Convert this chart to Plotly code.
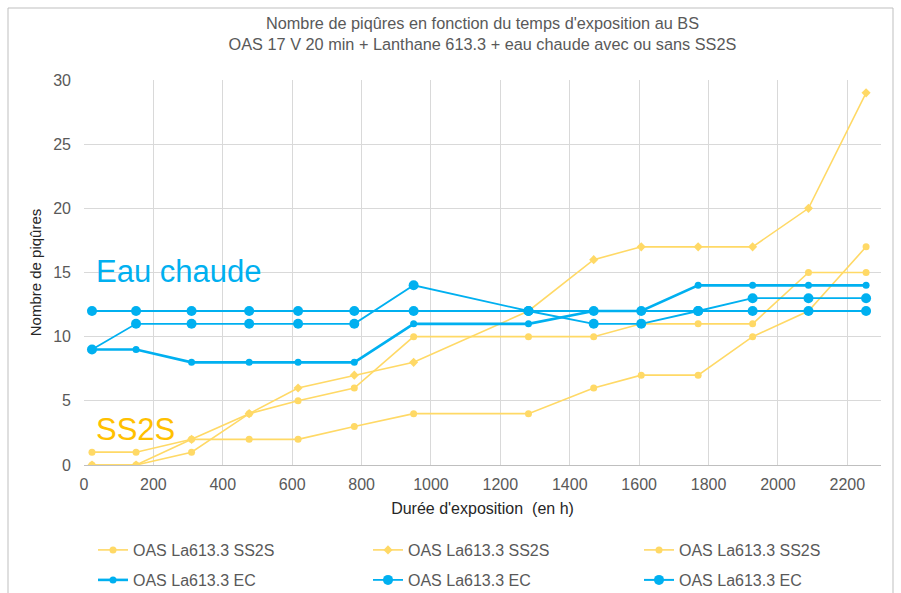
import plotly.graph_objects as go

# Exposure times (h) at which pits were counted
hours = [23, 150, 310, 476, 617, 779, 950, 1281, 1469, 1606, 1770, 1927, 2088, 2254]

# Pit counts, SS2S samples
ss2s_1 = [1, 1, 2, 2, 2, 3, 4, 4, 6, 7, 7, 10, 12, 17]
ss2s_2 = [0, 0, 2, 4, 6, 7, 8, 12, 16, 17, 17, 17, 20, 29]
ss2s_3 = [0, 0, 1, 4, 5, 6, 10, 10, 10, 11, 11, 11, 15, 15]

# Pit counts, hot water (EC) samples
ec_1 = [9, 9, 8, 8, 8, 8, 11, 11, 12, 12, 14, 14, 14, 14]
ec_2 = [9, 11, 11, 11, 11, 11, 14, 12, 11, 11, 12, 13, 13, 13]
ec_3 = [12, 12, 12, 12, 12, 12, 12, 12, 12, 12, 12, 12, 12, 12]

ss2s_name = "OAS La613.3 SS2S"
ec_name = "OAS La613.3 EC"
x_ticks = [0, 200, 400, 600, 800, 1000, 1200, 1400, 1600, 1800, 2000, 2200]
y_ticks = [0, 5, 10, 15, 20, 25, 30]

YELLOW = "#FFD966"
BLUE = "#00B0F0"
FONT = "Liberation Sans, Arial, sans-serif"
GREY_TXT = "#595959"

W, H = 901, 593
L, R, T, B = 84, 20, 80, 128
PW, PH = W - L - R, H - T - B


def px_x(p):
    """Pixel column -> paper x."""
    return (p - L) / PW


def px_y(p):
    """Pixel row -> paper y."""
    return (H - B - p) / PH


fig = go.Figure()

# One legend per entry so the 3x2 grid sits exactly where wanted
legend_cols = [93, 368, 639]
legend_rows = [550, 580]

ss2s_styles = [("circle", 7), ("diamond", 7), ("circle", 7)]
for i, (ys, (sym, size)) in enumerate(zip([ss2s_1, ss2s_2, ss2s_3], ss2s_styles)):
    fig.add_trace(go.Scatter(
        x=hours, y=ys, name=ss2s_name, mode="lines+markers",
        line=dict(color=YELLOW, width=1.6),
        marker=dict(color=YELLOW, symbol=sym, size=size),
        legend="legend" if i == 0 else f"legend{i + 1}",
    ))

ec_styles = [(7, 2.6), (10, 1.8), (10, 2.0)]
for i, (ys, (size, lw)) in enumerate(zip([ec_1, ec_2, ec_3], ec_styles)):
    fig.add_trace(go.Scatter(
        x=hours, y=ys, name=ec_name, mode="lines+markers",
        line=dict(color=BLUE, width=lw),
        marker=dict(color=BLUE, symbol="circle", size=size),
        legend=f"legend{i + 4}",
    ))

# Group labels inside the plot
fig.add_annotation(x=30, y=15.05, xref="x", yref="y", text="Eau chaude",
                   showarrow=False, xanchor="left", yanchor="middle",
                   font=dict(family=FONT, size=31, color=BLUE))
fig.add_annotation(x=30, y=2.75, xref="x", yref="y", text="SS2S",
                   showarrow=False, xanchor="left", yanchor="middle",
                   font=dict(family=FONT, size=31, color="#FFC000"))

# Outer chart frame
fig.add_shape(type="rect", xref="paper", yref="paper",
              x0=px_x(8), x1=px_x(893), y0=px_y(640), y1=px_y(8),
              line=dict(color="#BFBFBF", width=1), fillcolor="rgba(0,0,0,0)",
              layer="below")

legends = {}
for k in range(6):
    key = "legend" if k == 0 else f"legend{k + 1}"
    legends[key] = dict(
        xref="container", yref="container",
        x=legend_cols[k % 3] / W, y=1 - legend_rows[k // 3] / H,
        xanchor="left", yanchor="middle", orientation="h",
        font=dict(family=FONT, size=16, color=GREY_TXT),
        bgcolor="rgba(0,0,0,0)", borderwidth=0,
        itemclick=False, itemdoubleclick=False,
    )

fig.update_layout(
    width=W, height=H,
    margin=dict(l=L, r=R, t=T, b=B, autoexpand=False),
    paper_bgcolor="white", plot_bgcolor="white",
    font=dict(family=FONT, size=16, color=GREY_TXT),
    title=dict(
        text="Nombre de piqûres en fonction du temps d'exposition au BS<br>"
             "OAS 17 V 20 min + Lanthane 613.3 + eau chaude avec ou sans SS2S",
        x=0.5, xref="paper", xanchor="center",
        y=1 - 29 / H, yanchor="middle",
        font=dict(family=FONT, size=16.3, color=GREY_TXT),
    ),
    xaxis=dict(
        range=[0, 2297], tickvals=x_ticks,
        showgrid=True, gridcolor="#D9D9D9", gridwidth=1,
        zeroline=False, showline=True, linecolor="#BFBFBF", linewidth=1,
        ticks="", tickfont=dict(family=FONT, size=16, color=GREY_TXT),
        ticklabelstandoff=5,
        title=dict(text="Durée d'exposition  (en h)", standoff=10,
                   font=dict(family=FONT, size=16, color="#262626")),
    ),
    yaxis=dict(
        range=[0, 30], tickvals=y_ticks,
        showgrid=True, gridcolor="#D9D9D9", gridwidth=1,
        zeroline=False, showline=False, ticks="",
        tickfont=dict(family=FONT, size=16, color=GREY_TXT),
        ticklabelstandoff=12,
        title=dict(text="Nombre de piqûres", standoff=7,
                   font=dict(family=FONT, size=15, color="#262626")),
    ),
    showlegend=True,
    **legends,
)

fig.write_html("out.html")
